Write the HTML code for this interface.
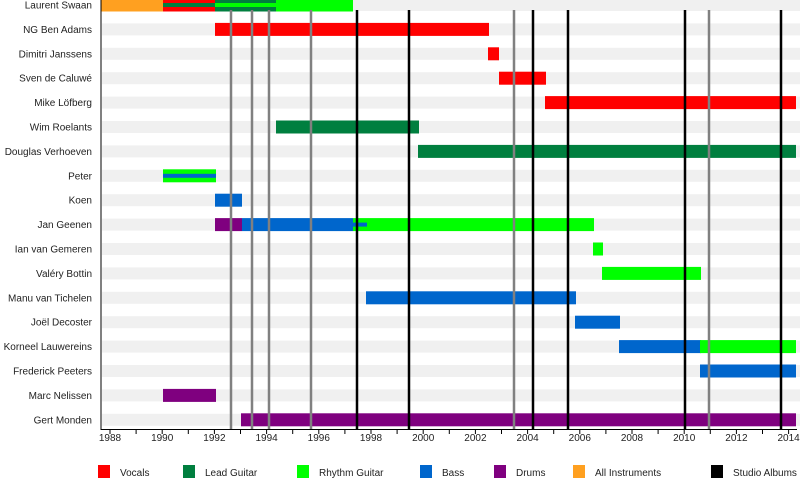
<!DOCTYPE html>
<html><head><meta charset="utf-8"><style>body{margin:0;background:#fff}</style></head><body>
<svg width="800" height="483" xmlns="http://www.w3.org/2000/svg" font-family="Liberation Sans, sans-serif" font-size="10">
<g id="bg" fill="#f0f0f0"></g>
<g id="bars"></g>
<g id="lines"></g>
<line x1="101" y1="0" x2="101" y2="430" stroke="#000" stroke-width="1"/>
<line x1="101" y1="429.5" x2="797" y2="429.5" stroke="#000" stroke-width="1"/>
<g id="ticks"></g>
<g id="labels" text-anchor="end" fill="#222"></g>
<g font-size="10" fill="#222">
<rect x="98" y="465" width="12" height="13" fill="#ff0000"/><text x="120" y="476">Vocals</text>
<rect x="183" y="465" width="12" height="13" fill="#007f3f"/><text x="205" y="476">Lead Guitar</text>
<rect x="297" y="465" width="12" height="13" fill="#00ff00"/><text x="319" y="476">Rhythm Guitar</text>
<rect x="420" y="465" width="12" height="13" fill="#0066cc"/><text x="442" y="476">Bass</text>
<rect x="494" y="465" width="12" height="13" fill="#7f007f"/><text x="516" y="476">Drums</text>
<rect x="573" y="465" width="12" height="13" fill="#ffa020"/><text x="595" y="476">All Instruments</text>
<rect x="711" y="465" width="12" height="13" fill="#000"/><text x="733" y="476">Studio Albums</text>
</g>
</svg>
<script>
const NS="http://www.w3.org/2000/svg";
function el(p,t,a,txt){const e=document.createElementNS(NS,t);for(const k in a)e.setAttribute(k,a[k]);if(txt)e.textContent=txt;document.getElementById(p).appendChild(e);}
const names=["Laurent Swaan","NG Ben Adams","Dimitri Janssens","Sven de Caluwé","Mike Löfberg","Wim Roelants","Douglas Verhoeven","Peter","Koen","Jan Geenen","Ian van Gemeren","Valéry Bottin","Manu van Tichelen","Joël Decoster","Korneel Lauwereins","Frederick Peeters","Marc Nelissen","Gert Monden"];
const R="#ff0000",LG="#007f3f",G="#00ff00",B="#0066cc",P="#7f007f",O="#ffa020";
const bars=[
[[101,163,O],[163,215,R],[215,276,LG],[276,353,G]],
[[215,489,R]],[[488,499,R]],[[499,546,R]],[[545,796,R]],[[276,419,LG]],[[418,796,LG]],
[[163,216,G]],[[215,242,B]],[[215,242,P],[242,353,B],[353,594,G]],[[593,603,G]],[[602,701,G]],
[[366,576,B]],[[575,620,B]],[[619,701,B],[700,796,G]],[[700,796,B]],[[163,216,P]],[[241,796,P]]];
const thin=[[0,163,215,LG],[0,215,276,G],[7,163,216,B],[9,353,367,B]];
names.forEach((n,i)=>{const c=5+24.4*i;
el("bg","rect",{x:102,y:c-6,width:698,height:12});
el("labels","text",{x:92,y:c+3.5},n);
bars[i].forEach(b=>el("bars","rect",{x:b[0],y:c-6.5,width:b[1]-b[0],height:13,fill:b[2]}));});
thin.forEach(t=>{const c=5+24.4*t[0];el("bars","rect",{x:t[1],y:c-2,width:t[2]-t[1],height:4,fill:t[3]});});
[231,252,269,311,514,709].forEach(x=>el("lines","line",{x1:x,y1:10,x2:x,y2:429,stroke:"#808080","stroke-width":2.5}));
[357,409,533,568,685,781].forEach(x=>el("lines","line",{x1:x,y1:10,x2:x,y2:429,stroke:"#000","stroke-width":2.5}));
for(let y=1988;y<=2014;y++){const x=110+26.1*(y-1988);
el("ticks","line",{x1:x,y1:430,x2:x,y2:434,stroke:"#000"});
if(y%2==0)el("ticks","text",{x:x,y:441,"text-anchor":"middle","font-size":"10",fill:"#222"},String(y));}
</script>
</body></html>
